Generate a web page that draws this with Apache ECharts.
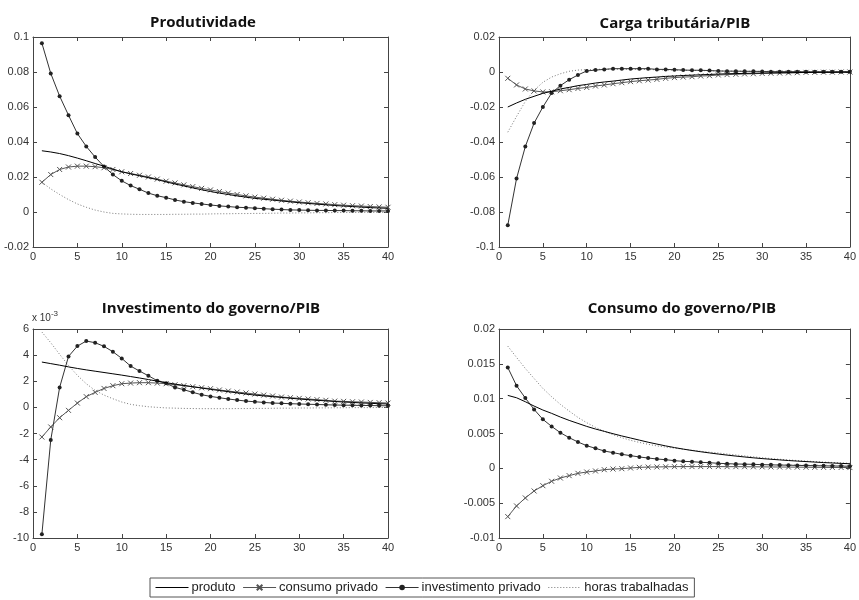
<!DOCTYPE html>
<html>
<head>
<meta charset="utf-8">
<script src="https://cdn.jsdelivr.net/npm/echarts@6/dist/echarts.min.js"></script>
<style>
html,body{margin:0;padding:0;background:#fff;}
#chart{width:859px;height:600px;}
</style>
</head>
<body>
<div id="chart"></div>
<script>
// ---- Data ----
var periods = [1,2,3,4,5,6,7,8,9,10,11,12,13,14,15,16,17,18,19,20,21,22,23,24,25,26,27,28,29,30,31,32,33,34,35,36,37,38,39,40];
var panelTitles = ['Produtividade', 'Carga tributária/PIB', 'Investimento do governo/PIB', 'Consumo do governo/PIB'];
var seriesNames = ['produto', 'consumo privado', 'investimento privado', 'horas trabalhadas'];
var xTicks = [0,5,10,15,20,25,30,35,40];
var yTicks1 = [-0.02,0,0.02,0.04,0.06,0.08,0.1];
var yTicks2 = [-0.1,-0.08,-0.06,-0.04,-0.02,0,0.02];
var yTicks3 = [-10,-8,-6,-4,-2,0,2,4,6];         // x 10^-3
var yTicks4 = [-0.01,-0.005,0,0.005,0.01,0.015,0.02];

// Panel 1: Produtividade
var produto1 = [0.0350,0.0343,0.0334,0.0322,0.0308,0.0293,0.0277,0.0262,0.0245,0.0230,0.0218,0.0207,0.0196,0.0185,0.0172,0.0160,0.0149,0.0138,0.0127,0.0117,0.0108,0.0100,0.0092,0.0085,0.0078,0.0073,0.0068,0.0063,0.0058,0.0053,0.0049,0.0045,0.0041,0.0037,0.0034,0.0031,0.0028,0.0025,0.0023,0.0021];
var consumo1 = [0.0170,0.0214,0.0243,0.0257,0.0262,0.0262,0.0259,0.0253,0.0243,0.0230,0.0220,0.0210,0.0200,0.0188,0.0176,0.0166,0.0155,0.0145,0.0135,0.0126,0.0117,0.0108,0.0100,0.0092,0.0085,0.0079,0.0073,0.0067,0.0062,0.0057,0.0053,0.0049,0.0046,0.0042,0.0039,0.0036,0.0034,0.0031,0.0029,0.0027];
var invest1 = [0.0965,0.0792,0.0662,0.0553,0.0448,0.0375,0.0314,0.0260,0.0214,0.0178,0.0151,0.0130,0.0108,0.0093,0.0082,0.0069,0.0059,0.0052,0.0046,0.0040,0.0035,0.0031,0.0027,0.0025,0.0022,0.0019,0.0016,0.0014,0.0012,0.0011,0.0010,0.0009,0.0009,0.0008,0.0008,0.0007,0.0007,0.0006,0.0006,0.0006];
var horas1 = [0.0170,0.0132,0.0100,0.0071,0.0046,0.0027,0.0011,0.0000,-0.0008,-0.0011,-0.0013,-0.0014,-0.0014,-0.0014,-0.0014,-0.0013,-0.0013,-0.0012,-0.0012,-0.0011,-0.0010,-0.0010,-0.0009,-0.0009,-0.0008,-0.0008,-0.0007,-0.0006,-0.0006,-0.0005,-0.0005,-0.0004,-0.0004,-0.0003,-0.0003,-0.0003,-0.0002,-0.0002,-0.0002,-0.0002];

// Panel 2: Carga tributária/PIB
var produto2 = [-0.0200,-0.0177,-0.0156,-0.0139,-0.0122,-0.0110,-0.0097,-0.0088,-0.0078,-0.0071,-0.0063,-0.0057,-0.0052,-0.0046,-0.0040,-0.0036,-0.0032,-0.0029,-0.0025,-0.0023,-0.0020,-0.0018,-0.0016,-0.0014,-0.0012,-0.0010,-0.0009,-0.0008,-0.0007,-0.0006,-0.0005,-0.0004,-0.0004,-0.0003,-0.0003,-0.0002,-0.0002,-0.0002,-0.0001,-0.0001];
var consumo2 = [-0.0036,-0.0074,-0.0097,-0.0108,-0.0114,-0.0113,-0.0107,-0.0101,-0.0094,-0.0088,-0.0080,-0.0074,-0.0067,-0.0061,-0.0055,-0.0050,-0.0046,-0.0042,-0.0036,-0.0032,-0.0029,-0.0027,-0.0023,-0.0021,-0.0017,-0.0015,-0.0013,-0.0011,-0.0010,-0.0008,-0.0007,-0.0006,-0.0005,-0.0004,-0.0002,-0.0002,-0.0001,-0.0001,0.0000,0.0000];
var invest2 = [-0.0876,-0.0609,-0.0426,-0.0292,-0.0200,-0.0120,-0.0078,-0.0044,-0.0017,0.0006,0.0011,0.0015,0.0019,0.0019,0.0019,0.0019,0.0019,0.0015,0.0015,0.0013,0.0011,0.0010,0.0010,0.0008,0.0006,0.0005,0.0005,0.0004,0.0004,0.0003,0.0002,0.0002,0.0002,0.0002,0.0001,0.0001,0.0001,0.0001,0.0001,0.0001];
var horas2 = [-0.0344,-0.0254,-0.0168,-0.0105,-0.0059,-0.0029,-0.0010,0.0004,0.0011,0.0013,0.0015,0.0016,0.0016,0.0016,0.0015,0.0015,0.0014,0.0013,0.0012,0.0011,0.0010,0.0009,0.0008,0.0007,0.0006,0.0005,0.0005,0.0004,0.0004,0.0003,0.0003,0.0002,0.0002,0.0002,0.0002,0.0001,0.0001,0.0001,0.0001,0.0001];

// Panel 3: Investimento do governo/PIB (values in units of 10^-3)
var produto3 = [3.47,3.35,3.23,3.10,2.98,2.87,2.77,2.67,2.57,2.47,2.36,2.25,2.13,2.01,1.89,1.78,1.68,1.58,1.48,1.38,1.29,1.20,1.11,1.02,0.94,0.88,0.82,0.76,0.70,0.64,0.59,0.54,0.50,0.45,0.41,0.38,0.34,0.31,0.28,0.26];
var consumo3 = [-2.27,-1.50,-0.79,-0.23,0.33,0.82,1.15,1.45,1.66,1.81,1.86,1.89,1.89,1.86,1.81,1.73,1.66,1.58,1.50,1.43,1.33,1.25,1.17,1.10,1.02,0.94,0.87,0.79,0.74,0.69,0.64,0.59,0.54,0.48,0.46,0.43,0.41,0.38,0.36,0.33];
var invest3 = [-9.72,-2.50,1.53,3.90,4.69,5.08,4.95,4.67,4.26,3.75,3.16,2.78,2.42,2.04,1.84,1.53,1.35,1.15,0.97,0.84,0.74,0.64,0.56,0.48,0.43,0.38,0.33,0.31,0.28,0.26,0.24,0.22,0.20,0.18,0.17,0.16,0.15,0.14,0.13,0.12];
var horas3 = [5.77,4.95,4.06,3.21,2.45,1.81,1.30,0.94,0.66,0.41,0.23,0.13,0.05,0.00,-0.04,-0.06,-0.08,-0.09,-0.10,-0.10,-0.10,-0.10,-0.09,-0.09,-0.08,-0.08,-0.07,-0.06,-0.06,-0.05,-0.05,-0.04,-0.04,-0.03,-0.03,-0.02,-0.02,-0.02,-0.01,-0.01];

// Panel 4: Consumo do governo/PIB
var produto4 = [0.01047,0.01013,0.00956,0.00894,0.00837,0.00789,0.00736,0.00688,0.00645,0.00602,0.00564,0.00531,0.00497,0.00465,0.00435,0.00405,0.00375,0.00348,0.00322,0.00298,0.00276,0.00256,0.00238,0.00221,0.00205,0.00190,0.00176,0.00163,0.00151,0.00140,0.00130,0.00121,0.00112,0.00104,0.00097,0.00090,0.00083,0.00077,0.00071,0.00066];
var consumo4 = [-0.00693,-0.00540,-0.00425,-0.00325,-0.00249,-0.00186,-0.00139,-0.00105,-0.00072,-0.00053,-0.00038,-0.00019,-0.00010,-0.00005,0.00005,0.00014,0.00018,0.00020,0.00022,0.00024,0.00025,0.00025,0.00025,0.00025,0.00025,0.00024,0.00024,0.00023,0.00022,0.00021,0.00020,0.00019,0.00018,0.00017,0.00016,0.00015,0.00014,0.00013,0.00012,0.00011];
var invest4 = [0.01448,0.01186,0.01009,0.00846,0.00703,0.00602,0.00511,0.00440,0.00378,0.00325,0.00287,0.00249,0.00225,0.00201,0.00182,0.00163,0.00148,0.00134,0.00124,0.00110,0.00100,0.00096,0.00086,0.00081,0.00072,0.00067,0.00062,0.00060,0.00057,0.00053,0.00050,0.00047,0.00045,0.00042,0.00040,0.00038,0.00036,0.00034,0.00032,0.00030];
var horas4 = [0.01754,0.01592,0.01434,0.01290,0.01147,0.01028,0.00918,0.00822,0.00731,0.00655,0.00588,0.00531,0.00483,0.00440,0.00402,0.00372,0.00345,0.00322,0.00305,0.00290,0.00275,0.00260,0.00245,0.00232,0.00220,0.00205,0.00192,0.00178,0.00165,0.00152,0.00140,0.00130,0.00120,0.00112,0.00104,0.00097,0.00090,0.00084,0.00078,0.00072];

var panelData = [
  [produto1, consumo1, invest1, horas1],
  [produto2, consumo2, invest2, horas2],
  [produto3, consumo3, invest3, horas3],
  [produto4, consumo4, invest4, horas4]
];
var panelYTicks = [yTicks1, yTicks2, yTicks3, yTicks4];

// ---- Layout / style ----
var grids = [
  {left: 33, top: 37, width: 355, height: 210},
  {left: 499, top: 37, width: 355, height: 210},
  {left: 33, top: 329, width: 355, height: 209},
  {left: 499, top: 329, width: 355, height: 209}
];
var titlePos = [[198, 10], [670, 11], [206, 296], [677, 296]];
var axisColor = '#444';
var labelFont = {fontFamily: '"Liberation Sans",Arial,sans-serif', fontSize: 11, color: '#333'};
var crossSym = 'path://M0,0L10,10M10,0L0,10';

function fmt(v){ return String(+(+v).toFixed(6)); }

var xAxes = [], yAxes = [], series = [], titles = [];
grids.forEach(function(g, i){
  var yt = panelYTicks[i];
  var ymin = yt[0], ymax = yt[yt.length-1], yint = +(yt[1]-yt[0]).toFixed(6);
  xAxes.push({
    type: 'value', gridIndex: i, min: xTicks[0], max: xTicks[xTicks.length-1], interval: xTicks[1]-xTicks[0],
    position: 'bottom',
    axisLine: {show: true, onZero: false, lineStyle: {color: axisColor, width: 1}},
    axisTick: {show: true, inside: true, length: 4, lineStyle: {color: axisColor}},
    axisLabel: Object.assign({margin: 4, formatter: fmt}, labelFont),
    splitLine: {show: false}
  });
  xAxes.push({
    type: 'value', gridIndex: i, min: xTicks[0], max: xTicks[xTicks.length-1], interval: xTicks[1]-xTicks[0],
    position: 'top',
    axisLine: {show: true, onZero: false, lineStyle: {color: axisColor, width: 1}},
    axisTick: {show: true, inside: true, length: 4, lineStyle: {color: axisColor}},
    axisLabel: {show: false}, splitLine: {show: false}
  });
  var yLeft = {
    type: 'value', gridIndex: i, min: ymin, max: ymax, interval: yint, position: 'left',
    axisLine: {show: true, onZero: false, lineStyle: {color: axisColor, width: 1}},
    axisTick: {show: true, inside: true, length: 4, lineStyle: {color: axisColor}},
    axisLabel: Object.assign({margin: 4, formatter: fmt}, labelFont),
    splitLine: {show: false}
  };
  if (i === 2) {
    yLeft.name = '{a|x 10}{b|-3}';
    yLeft.nameLocation = 'end';
    yLeft.nameGap = 3;
    yLeft.nameTextStyle = {
      align: 'left', verticalAlign: 'bottom', padding: [0,0,0,-1],
      rich: {
        a: {fontFamily: labelFont.fontFamily, fontSize: 10, color: '#333', padding: [4,0,0,0]},
        b: {fontFamily: labelFont.fontFamily, fontSize: 8, color: '#333', verticalAlign: 'top', padding: [0,0,6,0]}
      }
    };
  }
  yAxes.push(yLeft);
  yAxes.push({
    type: 'value', gridIndex: i, min: ymin, max: ymax, interval: yint, position: 'right',
    axisLine: {show: true, onZero: false, lineStyle: {color: axisColor, width: 1}},
    axisTick: {show: true, inside: true, length: 4, lineStyle: {color: axisColor}},
    axisLabel: {show: false}, splitLine: {show: false}
  });

  titles.push({
    text: panelTitles[i], left: titlePos[i][0], top: titlePos[i][1], textAlign: 'center',
    textStyle: {fontFamily: '"Open Sans","DejaVu Sans",sans-serif', fontWeight: 'bold', fontSize: 15, color: '#111'}
  });

  var d = panelData[i];
  function pairs(arr){ return periods.map(function(p, k){ return [p, arr[k]]; }); }
  var xi = i*2, yi = i*2;
  series.push({
    name: seriesNames[0], type: 'line', xAxisIndex: xi, yAxisIndex: yi, data: pairs(d[0]),
    symbol: 'none', showSymbol: false, color: '#000',
    lineStyle: {color: '#000', width: 1}, z: 4
  });
  series.push({
    name: seriesNames[1], type: 'line', xAxisIndex: xi, yAxisIndex: yi, data: pairs(d[1]),
    symbol: crossSym, symbolSize: 5, showSymbol: true, color: '#555',
    lineStyle: {color: '#555', width: 1},
    itemStyle: {color: 'rgba(0,0,0,0)', borderColor: '#555', borderWidth: 1}, z: 3
  });
  series.push({
    name: seriesNames[2], type: 'line', xAxisIndex: xi, yAxisIndex: yi, data: pairs(d[2]),
    symbol: 'circle', symbolSize: 4, showSymbol: true, color: '#333',
    lineStyle: {color: '#333', width: 1},
    itemStyle: {color: '#222', borderWidth: 0}, z: 3
  });
  series.push({
    name: seriesNames[3], type: 'line', xAxisIndex: xi, yAxisIndex: yi, data: pairs(d[3]),
    symbol: 'none', showSymbol: false, color: '#777',
    lineStyle: {color: '#777', width: 1, type: [1, 2]}, z: 2
  });
});

var chart = echarts.init(document.getElementById('chart'), null, {renderer: 'canvas'});
chart.setOption({
  animation: false,
  backgroundColor: '#fff',
  title: titles,
  grid: grids,
  xAxis: xAxes,
  yAxis: yAxes,
  legend: {
    data: [
      {name: seriesNames[0], itemStyle: {opacity: 0}},
      {name: seriesNames[1]},
      {name: seriesNames[2], itemStyle: {color: '#222'}},
      {name: seriesNames[3], itemStyle: {opacity: 0}}
    ],
    left: 150, top: 578,
    orient: 'horizontal',
    itemWidth: 33, itemHeight: 7, itemGap: 7,
    padding: [3, 6, 3, 5],
    borderColor: '#555', borderWidth: 1,
    lineStyle: {width: 1},
    textStyle: {fontFamily: '"Liberation Sans",Arial,sans-serif', fontSize: 13, color: '#222', padding: [0,0,0,-2]}
  },
  series: series
});
</script>
</body>
</html>
